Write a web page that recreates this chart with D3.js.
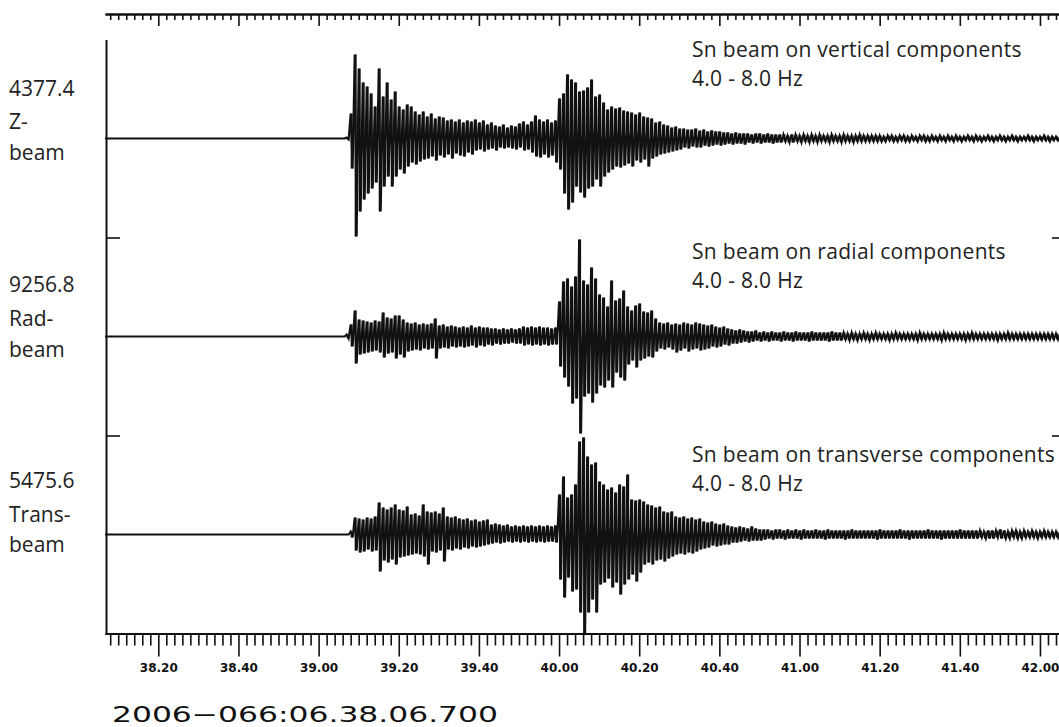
<!DOCTYPE html>
<html>
<head>
<meta charset="utf-8">
<script src="https://cdn.jsdelivr.net/npm/d3@7"></script>
<style>
  body { margin: 0; background: #fff; }
  .lab { font-family: "Open Sans", sans-serif; font-size: 21px; fill: #222; }
  .title { letter-spacing: 0.3px; }
  .axis .domain { stroke: #111; stroke-width: 2; }
  .axis .tick line { stroke: #111; stroke-width: 1.6; }
  .axis text { font-family: "DejaVu Sans", sans-serif; font-weight: bold; font-size: 12px; fill: #111; }
  .date { font-family: "DejaVu Sans", sans-serif; font-size: 21px; fill: #111; }
</style>
</head>
<body>
<div id="chart"></div>
<script>
// start of the record: 06:38:06.700, seconds counted from 38:00
const startSec = 6.7;
const endSec = 245;
// first second held in the sample arrays; before it the beams are flat
const firstSec = 67;

// beam peaks per second: up = positive swing, dn = negative swing (half a second later)
const zUp = [
  1, 25, 84, 70, 56, 52, 45, 32, 70, 42,
  56, 39, 47, 32, 29, 34, 32, 27, 24, 27,
  22, 25, 20, 22, 21, 18, 19, 17, 19, 16,
  18, 17, 19, 16, 18, 14, 16, 13, 12, 14,
  11, 13, 12, 15, 17, 14, 17, 23, 19, 17,
  19, 16, 18, 40, 45, 64, 59, 56, 47, 48,
  51, 59, 42, 44, 36, 29, 32, 30, 31, 28,
  27, 26, 24, 26, 22, 21, 20, 16, 17, 14,
  13, 11, 12, 10, 10, 9, 9, 10, 8, 9,
  7, 8, 7, 7, 6, 6, 5, 6, 5, 5,
  5, 4, 5, 5, 4, 5, 4, 4, 4, 4,
  3, 4, 4, 3, 4, 3, 4, 3, 4, 3,
  3, 4, 3, 3, 4, 3, 3, 3, 4, 3,
  3, 3, 3, 3, 2, 3, 3, 2, 3, 3,
  2, 3, 2, 3, 3, 2, 3, 2, 3, 2,
  3, 2, 3, 2, 2, 3, 2, 3, 2, 2,
  3, 2, 2, 3, 2, 2, 3, 2, 2, 2,
  3, 2, 2, 2, 3, 2, 2, 2, 2, 2
];
const zDn = [
  1, 30, 98, 73, 61, 55, 50, 44, 73, 48,
  38, 48, 38, 31, 35, 28, 24, 26, 23, 21,
  20, 18, 22, 17, 19, 16, 20, 15, 17, 18,
  14, 16, 12, 11, 13, 11, 10, 12, 9, 10,
  9, 10, 11, 9, 12, 11, 14, 18, 19, 16,
  19, 17, 24, 31, 55, 71, 64, 48, 54, 59,
  50, 48, 41, 48, 38, 34, 31, 28, 29, 27,
  25, 28, 22, 24, 21, 28, 20, 18, 16, 15,
  14, 13, 12, 11, 9, 10, 8, 9, 9, 7,
  8, 7, 6, 7, 6, 5, 6, 5, 5, 6,
  4, 5, 4, 5, 4, 4, 5, 4, 4, 3,
  4, 4, 3, 4, 3, 4, 3, 4, 3, 3,
  4, 3, 3, 4, 3, 3, 4, 3, 3, 3,
  3, 3, 3, 3, 3, 2, 3, 3, 2, 3,
  3, 2, 3, 2, 3, 3, 2, 3, 2, 3,
  2, 3, 2, 3, 2, 2, 3, 2, 3, 2,
  2, 3, 2, 2, 3, 2, 2, 3, 2, 2,
  2, 3, 2, 2, 2, 3, 2, 2, 2, 2
];
const radUp = [
  2, 12, 26, 17, 16, 15, 14, 16, 15, 24,
  19, 18, 21, 21, 17, 14, 13, 14, 12, 13,
  12, 13, 18, 11, 12, 10, 11, 10, 9, 10,
  9, 11, 9, 10, 9, 9, 8, 8, 7, 8,
  7, 8, 7, 8, 10, 9, 10, 9, 10, 9,
  9, 8, 9, 35, 55, 58, 50, 60, 97, 56,
  52, 69, 58, 42, 39, 30, 56, 36, 38, 46,
  30, 26, 31, 33, 25, 24, 26, 18, 14, 13,
  14, 12, 13, 12, 14, 13, 12, 14, 13, 12,
  11, 12, 10, 9, 10, 8, 7, 6, 7, 6,
  5, 5, 6, 4, 5, 4, 5, 4, 4, 5,
  4, 4, 5, 4, 4, 4, 5, 4, 4, 4,
  4, 5, 4, 4, 4, 3, 4, 3, 3, 4,
  3, 3, 4, 3, 3, 3, 3, 4, 3, 3,
  3, 3, 3, 4, 3, 3, 3, 3, 3, 4,
  3, 3, 3, 3, 3, 3, 4, 3, 3, 3,
  3, 3, 3, 3, 3, 4, 3, 3, 3, 3,
  3, 3, 3, 3, 3, 3, 3, 3, 3, 3
];
const radDn = [
  2, 10, 27, 18, 17, 16, 15, 14, 16, 21,
  17, 16, 22, 18, 21, 15, 14, 13, 14, 12,
  13, 12, 22, 12, 11, 12, 10, 11, 10, 11,
  10, 9, 11, 9, 10, 8, 9, 7, 8, 7,
  7, 6, 7, 7, 9, 8, 9, 8, 9, 8,
  9, 8, 8, 30, 41, 50, 67, 62, 97, 60,
  57, 66, 57, 49, 51, 44, 51, 36, 41, 44,
  28, 24, 31, 24, 22, 20, 21, 15, 12, 13,
  11, 13, 16, 14, 12, 15, 13, 12, 14, 13,
  12, 10, 11, 10, 8, 9, 7, 7, 6, 5,
  6, 5, 4, 5, 4, 5, 4, 4, 5, 4,
  4, 5, 4, 4, 4, 5, 4, 4, 4, 4,
  5, 4, 4, 4, 3, 4, 3, 4, 3, 3,
  4, 3, 3, 3, 3, 4, 3, 3, 3, 3,
  3, 3, 4, 3, 3, 3, 3, 3, 4, 3,
  3, 3, 3, 3, 4, 3, 3, 3, 3, 3,
  3, 3, 4, 3, 3, 3, 3, 3, 3, 3,
  3, 3, 3, 3, 3, 3, 3, 3, 3, 3
];
const transUp = [
  0, 3, 17, 16, 15, 17, 16, 18, 32, 27,
  25, 27, 30, 25, 24, 28, 20, 21, 19, 30,
  23, 22, 23, 21, 27, 18, 17, 18, 16, 15,
  16, 14, 15, 13, 14, 15, 10, 11, 10, 9,
  10, 8, 9, 8, 9, 8, 9, 8, 9, 8,
  9, 8, 9, 40, 58, 37, 40, 50, 93, 97,
  78, 70, 72, 53, 50, 45, 47, 42, 50, 48,
  60, 35, 34, 35, 33, 30, 29, 27, 28, 23,
  22, 23, 18, 17, 18, 16, 17, 15, 16, 13,
  12, 13, 11, 10, 11, 9, 8, 7, 8, 7,
  6, 8, 6, 5, 5, 5, 4, 5, 5, 4,
  5, 4, 5, 4, 5, 4, 4, 5, 4, 4,
  5, 4, 4, 4, 4, 4, 5, 4, 4, 4,
  4, 4, 4, 5, 4, 4, 4, 4, 5, 4,
  4, 4, 4, 4, 4, 5, 4, 4, 4, 4,
  4, 4, 4, 5, 4, 4, 4, 4, 4, 3,
  4, 4, 4, 5, 4, 3, 4, 4, 3, 4,
  3, 4, 3, 3, 4, 3, 3, 3, 3, 3
];
const transDn = [
  0, 3, 16, 18, 17, 15, 17, 16, 37, 26,
  28, 25, 30, 23, 22, 21, 20, 19, 20, 22,
  30, 17, 18, 16, 27, 15, 16, 14, 15, 13,
  14, 12, 13, 12, 11, 10, 9, 8, 9, 8,
  7, 8, 7, 8, 7, 8, 7, 8, 7, 8,
  7, 7, 8, 45, 63, 43, 57, 55, 78, 100,
  78, 65, 78, 50, 48, 44, 53, 48, 60, 50,
  45, 40, 47, 38, 30, 28, 30, 26, 25, 27,
  24, 22, 20, 19, 20, 18, 19, 17, 15, 14,
  13, 11, 12, 11, 10, 10, 8, 8, 7, 6,
  7, 6, 6, 6, 5, 4, 5, 4, 4, 5,
  4, 4, 4, 5, 4, 4, 4, 4, 4, 5,
  4, 4, 4, 4, 5, 4, 4, 4, 4, 4,
  4, 4, 5, 4, 4, 4, 4, 4, 4, 4,
  5, 4, 4, 4, 4, 4, 4, 4, 5, 4,
  4, 4, 4, 4, 4, 4, 4, 4, 3, 4,
  4, 4, 3, 4, 4, 4, 3, 4, 4, 3,
  3, 3, 4, 3, 3, 3, 3, 3, 3, 3
];

const beamValues = ['4377.4', '9256.8', '5475.6'];
const beamNames = [['Z-', 'beam'], ['Rad-', 'beam'], ['Trans-', 'beam']];
const beamTitles = ['Sn beam on vertical components', 'Sn beam on radial components', 'Sn beam on transverse components'];
const bandLabel = '4.0 - 8.0 Hz';
const tickSeconds = [20, 40, 60, 80, 100, 120, 140, 160, 180, 200, 220, 240];
const tickLabels = ['38.20', '38.40', '39.00', '39.20', '39.40', '40.00', '40.20', '40.40', '41.00', '41.20', '41.40', '42.00'];
const dateLabel = '2006\u2212066:06.38.06.700';

const traces = [[zUp, zDn], [radUp, radDn], [transUp, transDn]];

const width = 1059;
const height = 727;

const svg = d3.select('#chart').append('svg')
  .attr('width', width).attr('height', height);

const x = d3.scaleLinear().domain([startSec, endSec]).range([105, 1060]);
const panelY = d3.scaleLinear().domain([0, 3]).range([39.5, 633.5]);
const panelH = panelY(1) - panelY(0);
const amp = d3.scaleLinear().domain([-99, 99]).range([panelH, 0]);

svg.append('clipPath').attr('id', 'plot-clip')
  .append('rect').attr('x', x(startSec)).attr('y', -2).attr('width', x(endSec) - x(startSec)).attr('height', panelH + 4);

// layout offsets of the labels (relative to panel centre / top)
const leftOffsets = [[-42.5, -9.5, 21.5], [-44.5, -10.5, 20.5], [-46.5, -12.5, 17.5]];
const titleOffsets = [17.5, 21.5, 26.5];

const line = d3.line().x(d => x(d.t)).y(d => amp(d.v));

traces.forEach(([up, dn], k) => {
  const g = svg.append('g').attr('transform', `translate(0,${panelY(k)})`);
  const n = Math.min(up.length, dn.length);
  const samples = d3.range(n).map(i => ({t: firstSec + i, up: up[i], dn: dn[i]}));

  const pts = [{t: startSec, v: 0}, {t: firstSec - 0.5, v: 0}];
  samples.forEach(s => {
    pts.push({t: s.t, v: s.up});
    pts.push({t: s.t + 0.5, v: -s.dn});
  });

  const tr = g.append('g').attr('clip-path', 'url(#plot-clip)');

  // min/max stroke for each second, gives the dense core of the beam
  tr.selectAll('line.mm').data(samples).enter().append('line')
    .attr('class', 'mm')
    .attr('x1', d => x(d.t + 0.25)).attr('x2', d => x(d.t + 0.25))
    .attr('y1', d => amp(d.up)).attr('y2', d => amp(-d.dn))
    .attr('stroke', '#111')
    .attr('stroke-width', 2);

  tr.append('path')
    .attr('d', line(pts))
    .attr('fill', 'none')
    .attr('stroke', '#111')
    .attr('stroke-width', 2.1)
    .attr('stroke-linejoin', 'miter');

  const cy = panelH / 2;
  const lines = [beamValues[k]].concat(beamNames[k]);
  g.selectAll('text.left').data(lines).enter().append('text')
    .attr('class', 'lab left')
    .attr('x', 9)
    .attr('y', (d, i) => cy + leftOffsets[k][i])
    .text(d => d);

  g.selectAll('text.title').data([beamTitles[k], bandLabel]).enter().append('text')
    .attr('class', 'lab title')
    .attr('x', 692)
    .attr('y', (d, i) => titleOffsets[k] + i * 29)
    .text(d => d);
});

const minorSeconds = d3.range(8, endSec + 1, 2).filter(s => s % 20 !== 0);

// top axis, ticks only
const topG = svg.append('g').attr('class', 'axis').attr('transform', 'translate(0,14)');
topG.append('g').call(d3.axisBottom(x).tickValues(minorSeconds).tickSize(6).tickSizeOuter(0).tickFormat(''));
topG.append('g').call(d3.axisBottom(x).tickValues(tickSeconds).tickSize(12).tickSizeOuter(0).tickFormat(''));

// bottom axis with labels
const botG = svg.append('g').attr('class', 'axis').attr('transform', `translate(0,${panelY(3)})`);
botG.append('g').call(d3.axisBottom(x).tickValues(minorSeconds).tickSize(12).tickSizeOuter(0).tickFormat(''));
botG.append('g').call(d3.axisBottom(x).tickValues(tickSeconds).tickSize(23).tickSizeOuter(0).tickPadding(7)
  .tickFormat((d, i) => tickLabels[i]));

// panel frame: left and right edges with separator ticks
svg.append('g').attr('class', 'axis').attr('transform', `translate(${x(startSec) + 1},0)`)
  .call(d3.axisRight(panelY).tickValues([1, 2, 3]).tickSize(14).tickSizeOuter(0).tickFormat(''));
svg.append('g').attr('class', 'axis').attr('transform', `translate(${x(endSec) + 1},0)`)
  .call(d3.axisLeft(panelY).tickValues([1, 2, 3]).tickSize(9).tickSizeOuter(0).tickFormat(''));

svg.append('text')
  .attr('class', 'date')
  .attr('x', 112)
  .attr('y', 722)
  .attr('textLength', 386)
  .attr('lengthAdjust', 'spacingAndGlyphs')
  .text(dateLabel);
</script>
</body>
</html>
